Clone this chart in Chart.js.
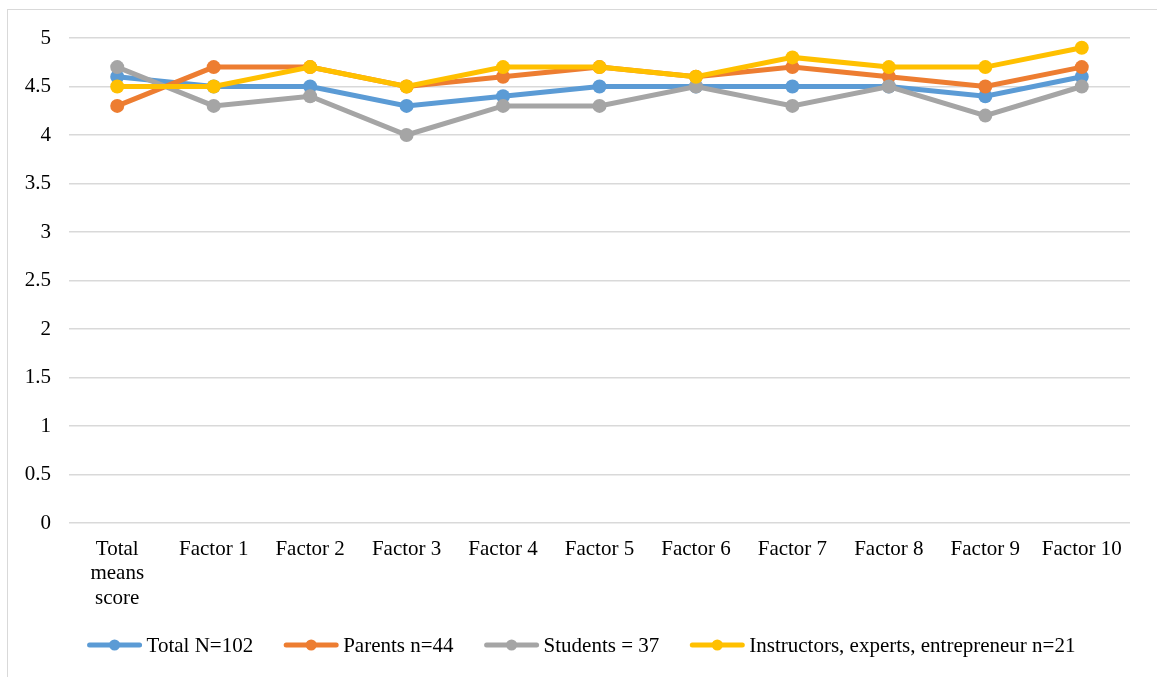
<!DOCTYPE html>
<html>
<head>
<meta charset="utf-8">
<script src="https://cdn.jsdelivr.net/npm/chart.js@4"></script>
<style>
  html, body { margin: 0; padding: 0; background: #fff; }
  #wrap { position: relative; width: 1157px; height: 677px; overflow: hidden; }
  #frame { position: absolute; left: 7px; top: 9px; width: 1160px; height: 700px;
           border-top: 1px solid #d9d9d9; border-left: 1px solid #d9d9d9; }
  canvas { position: absolute; left: 0; top: 0; }
</style>
</head>
<body>
<div id="wrap">
  <div id="frame"></div>
  <canvas id="chart" width="1157" height="677"></canvas>
</div>
<script>
// categories along the x axis
const categories = [
  ['Total', 'means', 'score'], 'Factor 1', 'Factor 2', 'Factor 3', 'Factor 4',
  'Factor 5', 'Factor 6', 'Factor 7', 'Factor 8', 'Factor 9', 'Factor 10'
];

// series names
const seriesNames = [
  'Total N=102',
  'Parents n=44',
  'Students = 37',
  'Instructors, experts, entrepreneur n=21'
];

// mean scores
const totalValues       = [4.6, 4.5, 4.5, 4.3, 4.4, 4.5, 4.5, 4.5, 4.5, 4.4, 4.6];
const parentsValues     = [4.3, 4.7, 4.7, 4.5, 4.6, 4.7, 4.6, 4.7, 4.6, 4.5, 4.7];
const studentsValues    = [4.7, 4.3, 4.4, 4.0, 4.3, 4.3, 4.5, 4.3, 4.5, 4.2, 4.5];
const instructorsValues = [4.5, 4.5, 4.7, 4.5, 4.7, 4.7, 4.6, 4.8, 4.7, 4.7, 4.9];

// y axis: 0 to 5 by 0.5
const yMin = 0, yMax = 5, yStep = 0.5;

const colors = ['#5B9BD5', '#ED7D31', '#A5A5A5', '#FFC000'];
const FONT = '"Liberation Serif", "Times New Roman", serif';
const FS = 21;

const allValues = [totalValues, parentsValues, studentsValues, instructorsValues];

const datasets = allValues.map((vals, i) => ({
  label: seriesNames[i],
  data: vals,
  borderColor: colors[i],
  backgroundColor: colors[i],
  borderWidth: 5,
  pointRadius: 7,
  pointHoverRadius: 7,
  pointBorderWidth: 0,
  tension: 0,
  order: allValues.length - i // later series drawn on top, like Excel
}));

// Excel-style legend: line segment with a dot, then the label, in one centred row
const lineLegend = {
  id: 'lineLegend',
  afterDraw(chart) {
    const ctx = chart.ctx;
    const y = 645, markW = 54, textGap = 5, itemGap = 31;
    ctx.save();
    ctx.font = FS + 'px ' + FONT;
    ctx.textBaseline = 'middle';
    const items = chart.data.datasets.map(ds => ({
      label: ds.label, color: ds.borderColor,
      w: markW + textGap + ctx.measureText(ds.label).width
    }));
    const total = items.reduce((s, it) => s + it.w, 0) + itemGap * (items.length - 1);
    let x = (chart.width - total) / 2 + 3;
    for (const it of items) {
      ctx.strokeStyle = it.color;
      ctx.lineWidth = 5;
      ctx.lineCap = 'round';
      ctx.beginPath(); ctx.moveTo(x + 2, y); ctx.lineTo(x + markW - 2, y); ctx.stroke();
      ctx.fillStyle = it.color;
      ctx.beginPath(); ctx.arc(x + markW / 2, y, 5.5, 0, Math.PI * 2); ctx.fill();
      ctx.fillStyle = '#000';
      ctx.fillText(it.label, x + markW + textGap, y + 1);
      x += it.w + itemGap;
    }
    ctx.restore();
  }
};

Chart.defaults.font.family = FONT;
Chart.defaults.color = '#000';

new Chart(document.getElementById('chart'), {
  type: 'line',
  data: { labels: categories, datasets },
  plugins: [lineLegend],
  options: {
    responsive: false,
    animation: false,
    layout: { padding: { top: 38, right: 27, bottom: 54, left: 0 } },
    plugins: {
      tooltip: { enabled: false },
      legend: { display: false }
    },
    scales: {
      x: {
        offset: true,
        grid: { display: false, drawTicks: false },
        border: { display: false },
        ticks: {
          font: { size: FS, family: FONT, lineHeight: 1.17 },
          color: '#000',
          padding: 14,
          maxRotation: 0,
          autoSkip: false
        },
        afterFit: s => { s.height = 100; }
      },
      y: {
        min: yMin,
        max: yMax,
        grid: { color: '#d9d9d9', lineWidth: 1.5, drawTicks: false },
        border: { display: false },
        ticks: {
          stepSize: yStep,
          font: { size: FS, family: FONT },
          color: '#000',
          padding: 18,
          callback: v => String(Number(v))
        },
        afterFit: s => { s.width = 69; }
      }
    }
  }
});
</script>
</body>
</html>
